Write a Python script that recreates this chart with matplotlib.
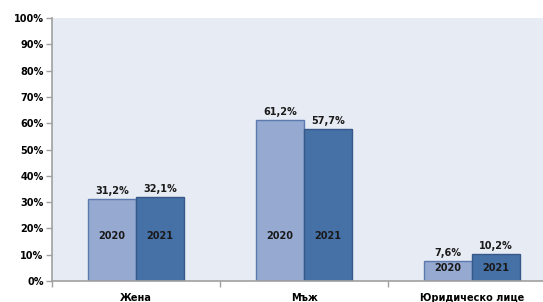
import numpy as np
import matplotlib.pyplot as plt
from matplotlib.ticker import FixedLocator, PercentFormatter

# data
categories = ['Жена', 'Мъж', 'Юридическо лице']
years = ['2020', '2021']
values_2020 = [31.2, 61.2, 7.6]
values_2021 = [32.1, 57.7, 10.2]

plt.rcParams['font.family'] = ['DejaVu Sans']
plt.rcParams['font.weight'] = 'bold'

fig = plt.figure(figsize=(5.43, 3.02), dpi=100)
# plot area runs past the right edge, as in the (cropped) reference
ax = fig.add_axes([52 / 543, 21 / 302, 504 / 543, 263 / 302])
ax.set_facecolor('#E7EBF4')

x = np.arange(len(categories))
w = 0.285
colors = ['#95A9D1', '#4671A6']
edges = ['#5C7AAE', '#36598A']

for i, (vals, yr) in enumerate(zip([values_2020, values_2021], years)):
    xs = x + (i - 0.5) * w
    ax.bar(xs, vals, width=w, color=colors[i], edgecolor=edges[i], linewidth=1.0)
    for xx, v in zip(xs, vals):
        ax.annotate(f'{v:.1f}%'.replace('.', ','), (xx, v), xytext=(0, 2),
                    textcoords='offset points', ha='center', va='bottom',
                    fontsize=7, fontweight='bold', color='#1a1a1a')
        ypos = 17 if v > 20 else 5
        ax.text(xx, ypos, yr, ha='center', va='center', fontsize=7,
                fontweight='bold', color='#1a1a1a')

ax.set_xlim(-0.5, 2.5)
ax.set_ylim(0, 100)
ax.yaxis.set_major_locator(FixedLocator(np.arange(0, 101, 10)))
ax.yaxis.set_major_formatter(PercentFormatter(decimals=0))

ax.set_xticks(x)
ax.set_xticklabels(categories)
ax.xaxis.set_minor_locator(FixedLocator([-0.5, 0.5, 1.5, 2.5]))
ax.tick_params(axis='x', which='major', length=0, pad=8.5, labelsize=7)
ax.tick_params(axis='x', which='minor', length=4, color='#A0A0A0', width=1)
ax.tick_params(axis='y', length=4, color='#A0A0A0', width=1, labelsize=7, pad=2)
for lbl in ax.get_xticklabels() + ax.get_yticklabels():
    lbl.set_fontweight('bold')

for s in ['top', 'right']:
    ax.spines[s].set_visible(False)
for s in ['left', 'bottom']:
    ax.spines[s].set_color('#A0A0A0')
    ax.spines[s].set_linewidth(1.2)

fig.savefig('out.png', dpi=100)
